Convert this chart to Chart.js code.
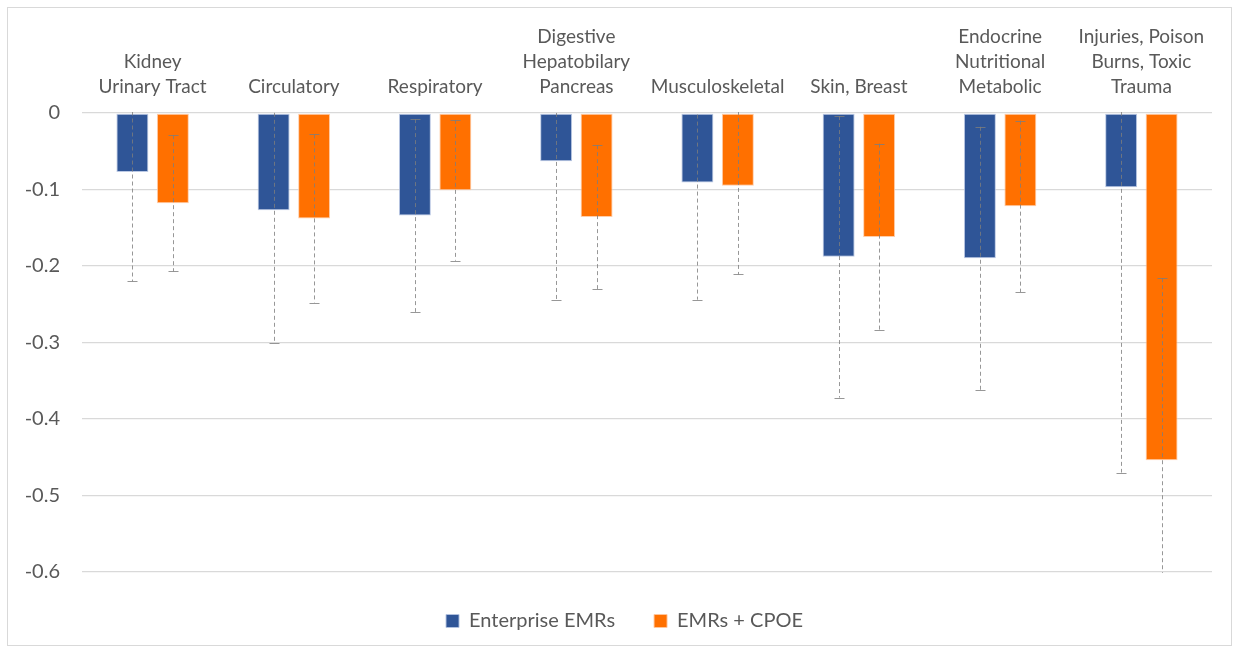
<!DOCTYPE html>
<html>
<head>
<meta charset="utf-8">
<script src="https://cdn.jsdelivr.net/npm/chart.js@4/dist/chart.umd.min.js"></script>
<style>
  html, body { margin: 0; padding: 0; background: #fff; }
  #wrap { width: 1239px; height: 653px; }
</style>
</head>
<body>
<div id="wrap"><canvas id="c" width="1239" height="653"></canvas></div>
<script>
// Diagnostic categories (multi-line labels shown above the bars)
const categories = [
  ['Kidney', 'Urinary Tract'],
  'Circulatory',
  'Respiratory',
  ['Digestive', 'Hepatobilary', 'Pancreas'],
  'Musculoskeletal',
  'Skin, Breast',
  ['Endocrine', 'Nutritional', 'Metabolic'],
  ['Injuries, Poison', 'Burns, Toxic', 'Trauma']
];

// Estimated effects per category
const enterpriseEMRs = [-0.077, -0.127, -0.134, -0.063, -0.091, -0.188, -0.190, -0.097];
const emrsCPOE       = [-0.118, -0.138, -0.101, -0.136, -0.095, -0.162, -0.122, -0.454];

// Symmetric error half-widths
const enterpriseErr = [0.143, 0.173, 0.126, 0.182, 0.153, 0.184, 0.172, 0.373];
const cpoeErr       = [0.089, 0.110, 0.092, 0.094, 0.116, 0.122, 0.112, 0.238];

// Value axis tick labels
const yTickLabels = ['0', '-0.1', '-0.2', '-0.3', '-0.4', '-0.5', '-0.6'];

const FONT = 'Lato, "Open Sans", "DejaVu Sans", sans-serif';
const TEXT = '#595959';

// Frame around the whole chart
const framePlugin = {
  id: 'frame',
  beforeDraw(chart) {
    const ctx = chart.ctx;
    ctx.save();
    ctx.fillStyle = '#ffffff';
    ctx.fillRect(0, 0, chart.width, chart.height);
    ctx.strokeStyle = '#d9d9d9';
    ctx.lineWidth = 1;
    ctx.strokeRect(7.5, 7.5, 1224, 638);
    ctx.restore();
  }
};

// Fixed legend band height, legend centred on the whole canvas
const legendBandPlugin = {
  id: 'legendBand',
  beforeLayout(chart) {
    const lg = chart.legend;
    if (lg && !lg._bandPatched) {
      const orig = lg.fit;
      lg.fit = function () {
        orig.call(this);
        this.height = 81;
        this.minSize && (this.minSize.height = 81);
      };
      lg._bandPatched = true;
    }
  },
  afterLayout(chart) {
    const lg = chart.legend;
    if (lg) {
      const shift = chart.width / 2 - (lg.left + lg.right) / 2 + 5;
      lg.left += shift;
      lg.right += shift;
    }
  }
};

// Dashed error whiskers with caps, clipped to the plot area
const errorBarPlugin = {
  id: 'errorBars',
  afterDatasetsDraw(chart) {
    const ctx = chart.ctx;
    const y = chart.scales.y;
    const area = chart.chartArea;
    ctx.save();
    ctx.beginPath();
    ctx.rect(area.left, area.top - 1, area.right - area.left, area.bottom - area.top + 2);
    ctx.clip();
    ctx.lineWidth = 1;
    chart.data.datasets.forEach((ds, di) => {
      const meta = chart.getDatasetMeta(di);
      ds.errors.forEach((e, i) => {
        const bar = meta.data[i];
        const v = ds.data[i];
        const x = Math.round(bar.x) + 0.5;
        const yHi = y.getPixelForValue(v + e);
        const yLo = y.getPixelForValue(v - e);
        ctx.strokeStyle = 'rgba(125,125,125,0.8)';
        ctx.setLineDash([4, 3]);
        ctx.beginPath();
        ctx.moveTo(x, yHi);
        ctx.lineTo(x, yLo);
        ctx.stroke();
        ctx.setLineDash([]);
        ctx.beginPath();
        [yHi, yLo].forEach(py => {
          const yy = Math.round(py) + 0.5;
          ctx.moveTo(x - 5, yy);
          ctx.lineTo(x + 5, yy);
        });
        ctx.stroke();
      });
    });
    ctx.restore();
  }
};

new Chart(document.getElementById('c'), {
  type: 'bar',
  data: {
    labels: categories,
    datasets: [
      {
        label: 'Enterprise EMRs',
        data: enterpriseEMRs,
        errors: enterpriseErr,
        backgroundColor: '#2F5597',
        borderColor: 'rgba(180,195,225,0.9)',
        borderWidth: 1,
        borderSkipped: false
      },
      {
        label: 'EMRs + CPOE',
        data: emrsCPOE,
        errors: cpoeErr,
        backgroundColor: '#FF7000',
        borderColor: 'rgba(255,200,160,0.9)',
        borderWidth: 1,
        borderSkipped: false
      }
    ]
  },
  options: {
    responsive: false,
    animation: false,
    devicePixelRatio: 1,
    categoryPercentage: 0.573,
    barPercentage: 0.79,
    layout: { padding: { top: 8, left: 0, right: 27, bottom: 0 } },
    plugins: {
      legend: {
        position: 'bottom',
        labels: {
          boxWidth: 13,
          boxHeight: 13,
          padding: 39,
          color: TEXT,
          font: { family: FONT, size: 20 }
        }
      },
      tooltip: { enabled: false }
    },
    scales: {
      x: {
        position: 'top',
        grid: { display: false, drawTicks: false },
        border: { display: false },
        ticks: {
          color: TEXT,
          padding: 14,
          maxRotation: 0,
          autoSkip: false,
          font: { family: FONT, size: 19, lineHeight: 25 / 19 }
        },
        afterFit(scale) { scale.height = 105; }
      },
      y: {
        min: -0.6,
        max: 0,
        grid: { color: '#d9d9d9', lineWidth: 1.3, drawTicks: false },
        border: { display: false },
        ticks: {
          stepSize: 0.1,
          padding: 22,
          color: TEXT,
          font: { family: FONT, size: 20 },
          callback(value) {
            const idx = Math.round(-value * 10);
            return yTickLabels[idx];
          }
        },
        afterFit(scale) { scale.width = 82; }
      }
    }
  },
  plugins: [framePlugin, legendBandPlugin, errorBarPlugin]
});
</script>
</body>
</html>
